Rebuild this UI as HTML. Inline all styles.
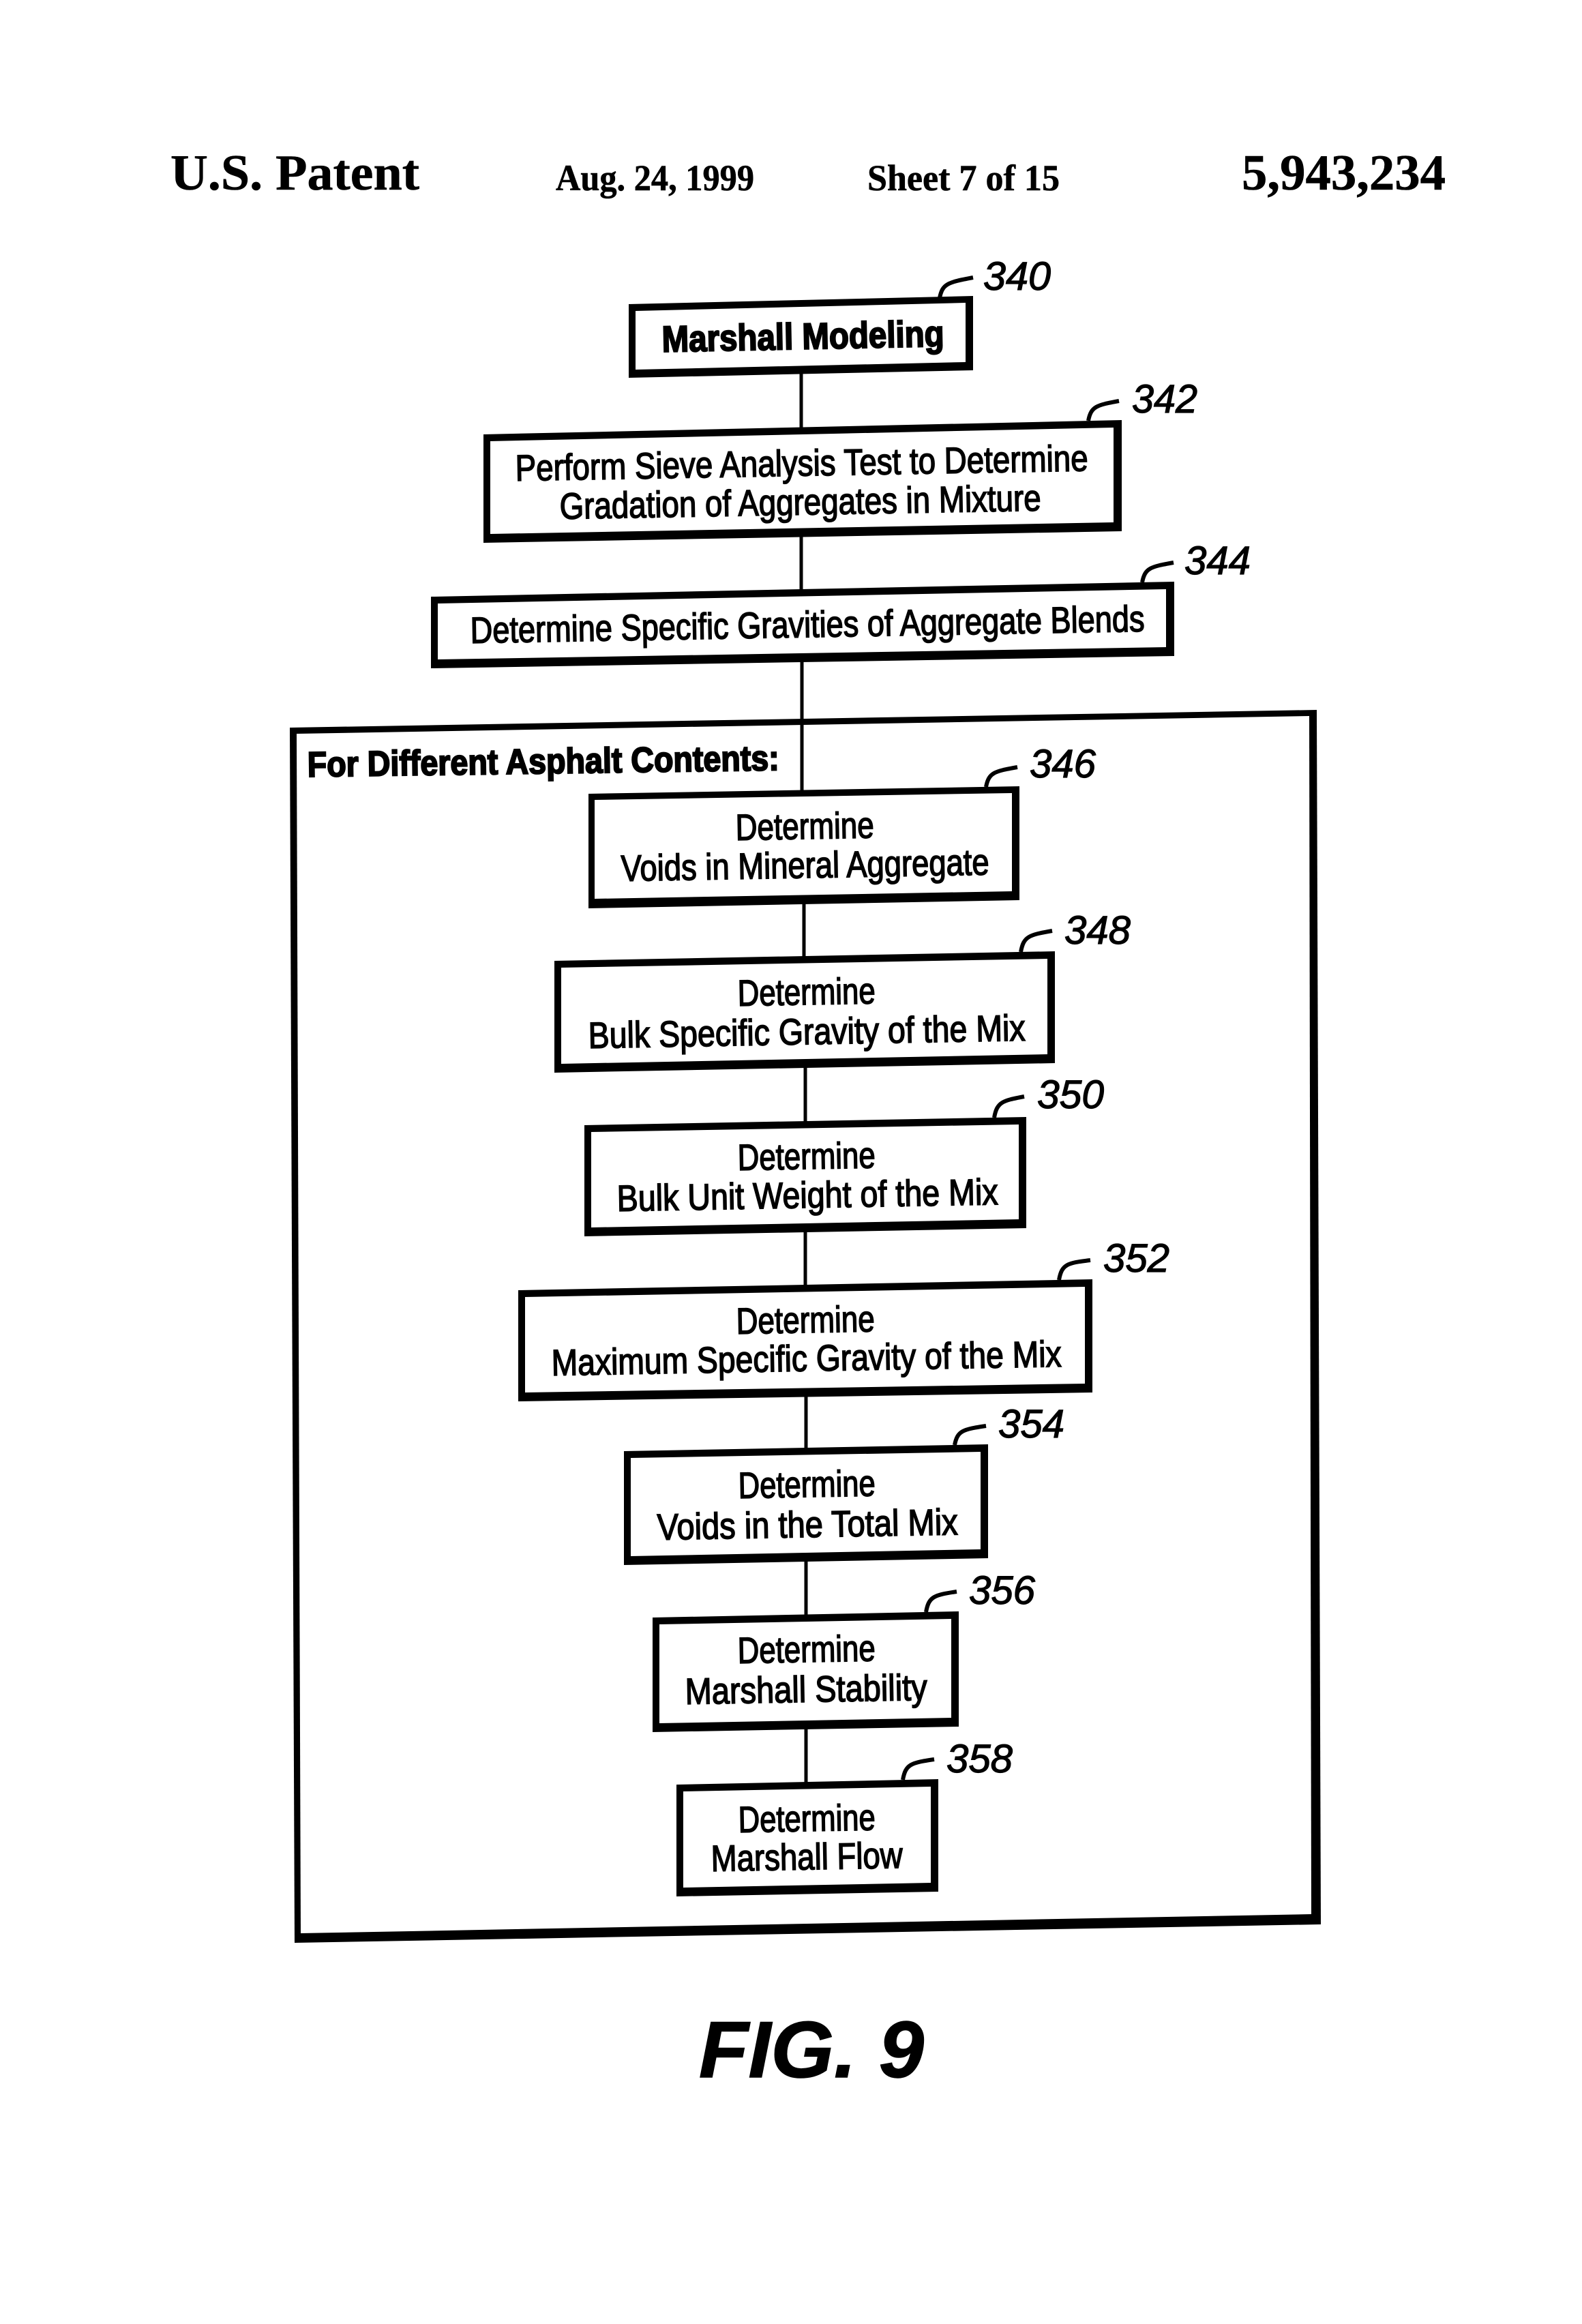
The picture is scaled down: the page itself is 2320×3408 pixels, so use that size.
<!DOCTYPE html>
<html lang="en">
<head>
<meta charset="utf-8">
<title>FIG. 9 - Marshall Modeling</title>
<style>
html,body{margin:0;padding:0;background:#fff;width:2320px;height:3408px;overflow:hidden}
svg{display:block}
.s{font-family:"Liberation Sans",Arial,sans-serif;font-size:54px;stroke:#000;stroke-width:1.6px}
.b{font-family:"Liberation Sans",Arial,sans-serif;font-size:54px;font-weight:bold;stroke:#000;stroke-width:2.2px}
.n{font-family:"Liberation Sans",Arial,sans-serif;font-size:58px;font-style:italic;stroke:#000;stroke-width:1.2px}
.h{font-family:"Liberation Serif","Times New Roman",serif;font-weight:bold;stroke:#000;stroke-width:.6px}
.k{fill:none;stroke:#000;stroke-width:6}
</style>
</head>
<body>
<svg xmlns="http://www.w3.org/2000/svg" width="2320" height="3408" viewBox="0 0 2320 3408">
<rect width="2320" height="3408" fill="#fff"/>

<!-- Header -->
<text class="h" font-size="74" x="250" y="278" textLength="365" lengthAdjust="spacingAndGlyphs">U.S. Patent</text>
<text class="h" font-size="54" x="815" y="279" textLength="291" lengthAdjust="spacingAndGlyphs">Aug. 24, 1999</text>
<text class="h" font-size="54" x="1272" y="279" textLength="282" lengthAdjust="spacingAndGlyphs">Sheet 7 of 15</text>
<text class="h" font-size="74" x="1821" y="278" textLength="299" lengthAdjust="spacingAndGlyphs">5,943,234</text>

<!-- Outer frame -->
<polygon points="425,1067 1931,1041 1937,2822 432,2849" fill="#000"/>
<polygon points="435,1076 1920,1050 1923,2807 441,2835" fill="#fff"/>

<!-- Connectors -->
<g stroke="#000" stroke-width="5">
<line x1="1175" y1="535" x2="1175" y2="632"/>
<line x1="1175" y1="775" x2="1175" y2="872"/>
<line x1="1176" y1="960" x2="1176" y2="1162"/>
<line x1="1179" y1="1315" x2="1179" y2="1405"/>
<line x1="1181" y1="1555" x2="1181" y2="1645"/>
<line x1="1181" y1="1795" x2="1181" y2="1888"/>
<line x1="1182" y1="2035" x2="1182" y2="2127"/>
<line x1="1182" y1="2275" x2="1182" y2="2370"/>
<line x1="1182" y1="2525" x2="1182" y2="2616"/>
</g>

<!-- Boxes: outer then inner -->
<g>
<polygon points="922,446 1427,434 1427,543 922,554" fill="#000"/><polygon points="932,456 1416,444 1416,531 932,542" fill="#fff"/>
<polygon points="709,637 1645,616 1645,779 709,796" fill="#000"/><polygon points="719,647 1633,627 1633,766 719,783" fill="#fff"/>
<polygon points="632,875 1722,853 1722,962 632,980" fill="#000"/><polygon points="642,885 1710,864 1710,949 642,967" fill="#fff"/>
<polygon points="863,1164 1495,1153 1495,1320 863,1332" fill="#000"/><polygon points="872,1173 1484,1163 1484,1307 872,1318" fill="#fff"/>
<polygon points="813,1409 1547,1395 1547,1559 813,1573" fill="#000"/><polygon points="823,1419 1536,1406 1536,1546 823,1560" fill="#fff"/>
<polygon points="857,1650 1505,1638 1505,1801 857,1813" fill="#000"/><polygon points="867,1660 1494,1649 1494,1788 867,1800" fill="#fff"/>
<polygon points="760,1892 1602,1876 1602,2042 760,2055" fill="#000"/><polygon points="770,1902 1591,1887 1591,2029 770,2042" fill="#fff"/>
<polygon points="915,2128 1449,2118 1449,2285 915,2295" fill="#000"/><polygon points="925,2138 1438,2129 1438,2272 925,2282" fill="#fff"/>
<polygon points="957,2372 1406,2363 1406,2532 957,2540" fill="#000"/><polygon points="967,2382 1395,2374 1395,2519 967,2527" fill="#fff"/>
<polygon points="992,2617 1376,2609 1376,2774 992,2781" fill="#000"/><polygon points="1002,2627 1365,2620 1365,2761 1002,2768" fill="#fff"/>
</g>

<!-- Hooks -->
<path class="k" d="M1378,437 C1382,416 1390,414 1427,407"/>
<path class="k" d="M1596,617 C1600,596 1608,594 1641,588"/>
<path class="k" d="M1675,854 C1679,833 1687,831 1721,825"/>
<path class="k" d="M1446,1154 C1450,1133 1458,1131 1492,1125"/>
<path class="k" d="M1497,1396 C1501,1373 1509,1371 1543,1365"/>
<path class="k" d="M1458,1639 C1462,1616 1470,1614 1502,1608"/>
<path class="k" d="M1553,1877 C1557,1854 1565,1852 1599,1848"/>
<path class="k" d="M1400,2119 C1404,2098 1412,2096 1446,2091"/>
<path class="k" d="M1358,2364 C1362,2341 1370,2339 1403,2334"/>
<path class="k" d="M1324,2610 C1328,2587 1336,2585 1370,2580"/>

<!-- Reference numerals -->
<text class="n" x="1442" y="425" textLength="99" lengthAdjust="spacingAndGlyphs">340</text>
<text class="n" x="1660" y="605" textLength="96" lengthAdjust="spacingAndGlyphs">342</text>
<text class="n" x="1737" y="842" textLength="97" lengthAdjust="spacingAndGlyphs">344</text>
<text class="n" x="1510" y="1140" textLength="97" lengthAdjust="spacingAndGlyphs">346</text>
<text class="n" x="1561" y="1384" textLength="97" lengthAdjust="spacingAndGlyphs">348</text>
<text class="n" x="1521" y="1625" textLength="98" lengthAdjust="spacingAndGlyphs">350</text>
<text class="n" x="1618" y="1865" textLength="97" lengthAdjust="spacingAndGlyphs">352</text>
<text class="n" x="1464" y="2108" textLength="97" lengthAdjust="spacingAndGlyphs">354</text>
<text class="n" x="1421" y="2352" textLength="97" lengthAdjust="spacingAndGlyphs">356</text>
<text class="n" x="1388" y="2599" textLength="97" lengthAdjust="spacingAndGlyphs">358</text>

<!-- Box labels -->
<text class="b" transform="rotate(-1.15 971 516)" x="971" y="516" textLength="414" lengthAdjust="spacingAndGlyphs">Marshall Modeling</text>
<text class="s" transform="rotate(-1 756 705)" x="756" y="705" textLength="840" lengthAdjust="spacingAndGlyphs">Perform Sieve Analysis Test to Determine</text>
<text class="s" transform="rotate(-1 821 761)" x="821" y="761" textLength="706" lengthAdjust="spacingAndGlyphs">Gradation of Aggregates in Mixture</text>
<text class="s" transform="rotate(-1 690 943)" x="690" y="943" textLength="989" lengthAdjust="spacingAndGlyphs">Determine Specific Gravities of Aggregate Blends</text>
<text class="b" transform="rotate(-0.8 451 1139)" x="451" y="1139" style="font-size:52px" textLength="692" lengthAdjust="spacingAndGlyphs">For Different Asphalt Contents:</text>

<text class="s" transform="rotate(-1 1079 1232)" x="1079" y="1232" textLength="203" lengthAdjust="spacingAndGlyphs">Determine</text>
<text class="s" transform="rotate(-1 911 1292)" x="911" y="1292" textLength="540" lengthAdjust="spacingAndGlyphs">Voids in Mineral Aggregate</text>

<text class="s" transform="rotate(-1 1082 1475)" x="1082" y="1475" textLength="202" lengthAdjust="spacingAndGlyphs">Determine</text>
<text class="s" transform="rotate(-1 863 1537)" x="863" y="1537" textLength="641" lengthAdjust="spacingAndGlyphs">Bulk Specific Gravity of the Mix</text>

<text class="s" transform="rotate(-1 1082 1716)" x="1082" y="1716" textLength="202" lengthAdjust="spacingAndGlyphs">Determine</text>
<text class="s" transform="rotate(-1 905 1776)" x="905" y="1776" textLength="559" lengthAdjust="spacingAndGlyphs">Bulk Unit Weight of the Mix</text>

<text class="s" transform="rotate(-1 1080 1956)" x="1080" y="1956" textLength="203" lengthAdjust="spacingAndGlyphs">Determine</text>
<text class="s" transform="rotate(-1 809 2017)" x="809" y="2017" textLength="748" lengthAdjust="spacingAndGlyphs">Maximum Specific Gravity of the Mix</text>

<text class="s" transform="rotate(-1 1083 2197)" x="1083" y="2197" textLength="201" lengthAdjust="spacingAndGlyphs">Determine</text>
<text class="s" transform="rotate(-1 964 2258)" x="964" y="2258" textLength="441" lengthAdjust="spacingAndGlyphs">Voids in the Total Mix</text>

<text class="s" transform="rotate(-1 1082 2439)" x="1082" y="2439" textLength="202" lengthAdjust="spacingAndGlyphs">Determine</text>
<text class="s" transform="rotate(-1 1005 2499)" x="1005" y="2499" textLength="355" lengthAdjust="spacingAndGlyphs">Marshall Stability</text>

<text class="s" transform="rotate(-1 1083 2687)" x="1083" y="2687" textLength="201" lengthAdjust="spacingAndGlyphs">Determine</text>
<text class="s" transform="rotate(-1 1043 2744)" x="1043" y="2744" textLength="281" lengthAdjust="spacingAndGlyphs">Marshall Flow</text>

<!-- Figure caption -->
<text x="1025" y="3046" font-family="'Liberation Sans',Arial,sans-serif" font-size="117" font-weight="bold" font-style="italic" stroke="#000" stroke-width="1.5" textLength="330" lengthAdjust="spacingAndGlyphs">FIG. 9</text>
</svg>
</body>
</html>
